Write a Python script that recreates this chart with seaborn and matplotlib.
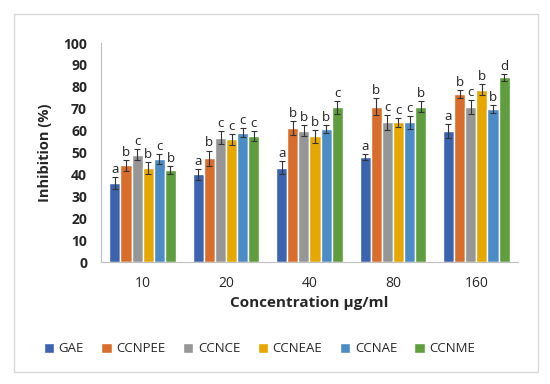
import numpy as np
import pandas as pd
import seaborn as sns
import matplotlib.pyplot as plt
from matplotlib.patches import Rectangle

concentrations = ["10", "20", "40", "80", "160"]
extracts = ["GAE", "CCNPEE", "CCNCE", "CCNEAE", "CCNAE", "CCNME"]

# inhibition (%) per extract, one value per concentration
gae    = [36.0, 40.0, 43.0, 48.0, 59.7]
ccnpee = [44.2, 47.3, 61.2, 70.9, 76.7]
ccnce  = [49.0, 56.7, 60.0, 63.8, 70.7]
ccneae = [42.9, 56.0, 57.4, 63.8, 78.7]
ccnae  = [47.1, 59.1, 60.8, 63.8, 69.9]
ccnme  = [42.0, 57.7, 70.7, 71.0, 84.3]

err_gae    = [2.8, 2.6, 3.0, 1.5, 3.3]
err_ccnpee = [2.5, 3.6, 3.0, 3.8, 1.8]
err_ccnce  = [2.4, 3.0, 2.6, 3.5, 3.3]
err_ccneae = [2.8, 2.5, 2.9, 2.0, 2.5]
err_ccnae  = [2.3, 2.0, 1.9, 3.0, 1.9]
err_ccnme  = [2.0, 2.3, 3.0, 2.6, 1.7]

letters_gae    = ["a", "a", "a", "a", "a"]
letters_ccnpee = ["b", "b", "b", "b", "b"]
letters_ccnce  = ["c", "c", "b", "c", "c"]
letters_ccneae = ["b", "c", "b", "c", "b"]
letters_ccnae  = ["c", "c", "b", "c", "b"]
letters_ccnme  = ["b", "c", "c", "b", "d"]

colors = ["#3C63AE", "#D96E2C", "#969696", "#E6A800", "#4C8CC6", "#5F9D3F"]

values = [gae, ccnpee, ccnce, ccneae, ccnae, ccnme]
errors = [err_gae, err_ccnpee, err_ccnce, err_ccneae, err_ccnae, err_ccnme]
letters = [letters_gae, letters_ccnpee, letters_ccnce, letters_ccneae, letters_ccnae, letters_ccnme]

rows = []
for name, vals in zip(extracts, values):
    for c, v in zip(concentrations, vals):
        rows.append({"conc": c, "extract": name, "inhibition": v})
df = pd.DataFrame(rows)

sns.set_theme(style="white")
plt.rcParams["font.family"] = ["Open Sans", "DejaVu Sans"]

fig = plt.figure(figsize=(5.5, 3.84), dpi=100)
ax = fig.add_axes([0.1836, 0.3177, 0.7582, 0.5703])

sns.barplot(data=df, x="conc", y="inhibition", hue="extract",
            order=concentrations, hue_order=extracts, palette=colors,
            errorbar=None, width=0.8, saturation=1, ax=ax, legend=True)

for cont, errs, labs in zip(ax.containers, errors, letters):
    xs = [b.get_x() + b.get_width() / 2 for b in cont]
    hs = [b.get_height() for b in cont]
    ax.errorbar(xs, hs, yerr=errs, fmt="none", ecolor="#333333",
                elinewidth=0.8, capsize=2.5, capthick=0.8)
    for x, h, e, lab in zip(xs, hs, errs, labs):
        ax.text(x, h + e + 0.5, lab, ha="center", va="bottom",
                fontsize=9.5, color="#222222")

ax.set_ylim(0, 100)
ax.set_yticks(range(0, 101, 10))
ax.set_xlim(-0.5, 4.5)
ax.set_xticks(np.arange(-0.5, 5.0, 1.0), minor=True)
ax.tick_params(axis="x", which="major", length=0, labelsize=10, pad=10)
ax.tick_params(axis="x", which="minor", length=4, color="#BFBFBF", direction="out")
ax.tick_params(axis="y", length=4, color="#BFBFBF", direction="out", labelsize=10, pad=6)
for lab in ax.get_yticklabels():
    lab.set_fontweight("bold")
for side in ["top", "right"]:
    ax.spines[side].set_visible(False)
for side in ["left", "bottom"]:
    ax.spines[side].set_color("#BFBFBF")
    ax.spines[side].set_linewidth(0.8)

ax.set_xlabel("Concentration µg/ml", fontsize=11, fontweight="bold", labelpad=4)
ax.set_ylabel("Inhibition (%)", fontsize=10.5, fontweight="bold", labelpad=8)

ax.legend(loc="center", bbox_to_anchor=(0.38, -0.397), ncol=6,
          frameon=False, fontsize=9.5, handlelength=0.8, handleheight=0.8,
          handletextpad=0.35, columnspacing=1.3)

fig.patches.append(Rectangle((14 / 550, 12 / 384), 524 / 550, 358 / 384,
                             transform=fig.transFigure, fill=False,
                             edgecolor="#D9D9D9", linewidth=1.0))

fig.savefig("out.png", dpi=100)
